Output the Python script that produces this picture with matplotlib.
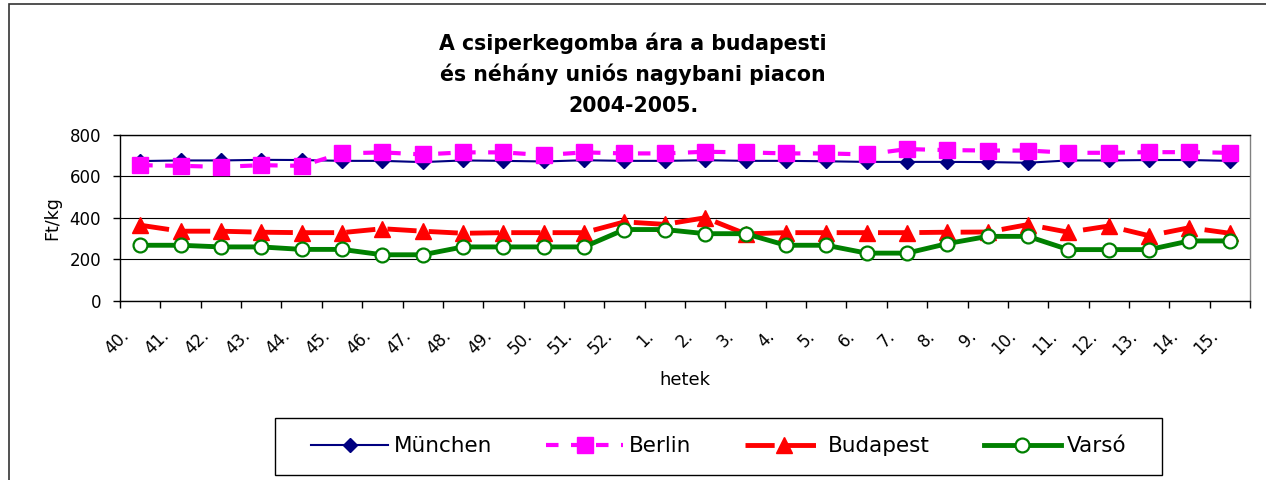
import matplotlib
matplotlib.use("Agg")
import matplotlib.pyplot as plt
import matplotlib.transforms as mtransforms
from matplotlib.patches import Rectangle
from matplotlib.ticker import FixedLocator

plt.rcParams['font.family'] = ['DejaVu Sans']

# weeks 40-52 of 2004, then 1-15 of 2005
weeks = ['40.', '41.', '42.', '43.', '44.', '45.', '46.', '47.', '48.', '49.',
         '50.', '51.', '52.', '1.', '2.', '3.', '4.', '5.', '6.', '7.',
         '8.', '9.', '10.', '11.', '12.', '13.', '14.', '15.']

munchen = [674, 677, 677, 680, 679, 675, 675, 669, 677, 675,
           672, 678, 675, 675, 678, 675, 675, 673, 670, 670,
           670, 669, 666, 677, 677, 679, 679, 675]
berlin = [654, 651, 646, 654, 651, 711, 716, 706, 716, 716,
          703, 716, 711, 711, 719, 716, 711, 711, 706, 732,
          727, 725, 725, 714, 714, 717, 717, 714]
budapest = [364, 335, 335, 330, 328, 328, 347, 335, 325, 328,
            328, 328, 380, 368, 400, 322, 328, 328, 328, 328,
            330, 331, 367, 330, 360, 313, 352, 325]
varso = [267, 267, 259, 259, 247, 247, 221, 221, 259, 259,
         259, 259, 343, 343, 323, 323, 267, 267, 229, 229,
         275, 310, 310, 246, 246, 246, 288, 288]

title_lines = ['A csiperkegomba ára a budapesti',
               'és néhány uniós nagybani piacon',
               '2004-2005.']

W, H = 1266, 480
fig = plt.figure(figsize=(W / 100, H / 100), dpi=100)

# outer chart border (runs off the right and bottom edge)
fig.patches.append(Rectangle((8.5 / W, -0.1), 1.2, 1.1 - 4 / H,
                             transform=fig.transFigure, fill=False,
                             edgecolor='#333333', linewidth=1.2))

ax = fig.add_axes([120 / W, 1 - 300.5 / H, 1130 / W, 165.5 / H])
x = list(range(len(weeks)))

ax.plot(x, munchen, color='#000080', lw=1.5, marker='D', ms=7.5,
        label='München')
ax.plot(x, berlin, color='#FF00FF', lw=3, dashes=(3, 3), marker='s', ms=11.5,
        label='Berlin')
ax.plot(x, budapest, color='#FF0000', lw=3.5, dashes=(6, 2.5), marker='^', ms=11.5,
        label='Budapest')
ax.plot(x, varso, color='#008000', lw=3.5, marker='o', ms=10, mfc='white',
        mew=1.6, label='Varsó')

ax.set_xlim(-0.5, len(weeks) - 0.5)
ax.set_ylim(0, 800)
ax.set_yticks([0, 200, 400, 600, 800])
ax.yaxis.grid(True, color='black', lw=0.8)
ax.set_axisbelow(True)

ax.set_xticks(x)
ax.set_xticklabels(weeks, rotation=45, ha='right', va='top', fontsize=12)
ax.xaxis.set_minor_locator(FixedLocator([i - 0.5 for i in range(len(weeks) + 1)]))
ax.tick_params(axis='x', which='major', length=0, pad=19)
ax.tick_params(axis='x', which='minor', length=5, width=1, direction='out')
ax.tick_params(axis='y', length=5, width=1, direction='out', pad=8.5, labelsize=12)
shift = mtransforms.ScaledTranslation(-8 / 100, 0, fig.dpi_scale_trans)
for lab in ax.get_xticklabels():
    lab.set_transform(lab.get_transform() + shift)

for s in ['left', 'bottom', 'top']:
    ax.spines[s].set_color('black')
    ax.spines[s].set_linewidth(1)
ax.spines['right'].set_color('#808080')
ax.spines['right'].set_linewidth(1)

for ypx, line in zip([50, 81, 112], title_lines):
    fig.text(633 / W, 1 - ypx / H, line, ha='center', va='baseline',
             fontsize=14.8, fontweight='bold')

fig.text(685 / W, 1 - 385 / H, 'hetek', ha='center', va='baseline', fontsize=13)
fig.text(52.5 / W, 1 - 218 / H, 'Ft/kg', ha='center', va='center',
         rotation=90, fontsize=12.5)

fig.patches.append(Rectangle((275 / W, 1 - 475 / H), 887 / W, 57 / H,
                             transform=fig.transFigure, fill=False,
                             edgecolor='black', linewidth=1))
ax.legend(loc='center', bbox_to_anchor=(718.5 / W, 1 - 446.5 / H),
          bbox_transform=fig.transFigure, ncol=4, frameon=False,
          fontsize=15.5, handlelength=3.6, handletextpad=0.25,
          columnspacing=2.5, numpoints=1)

fig.savefig('out.png', dpi=100)
